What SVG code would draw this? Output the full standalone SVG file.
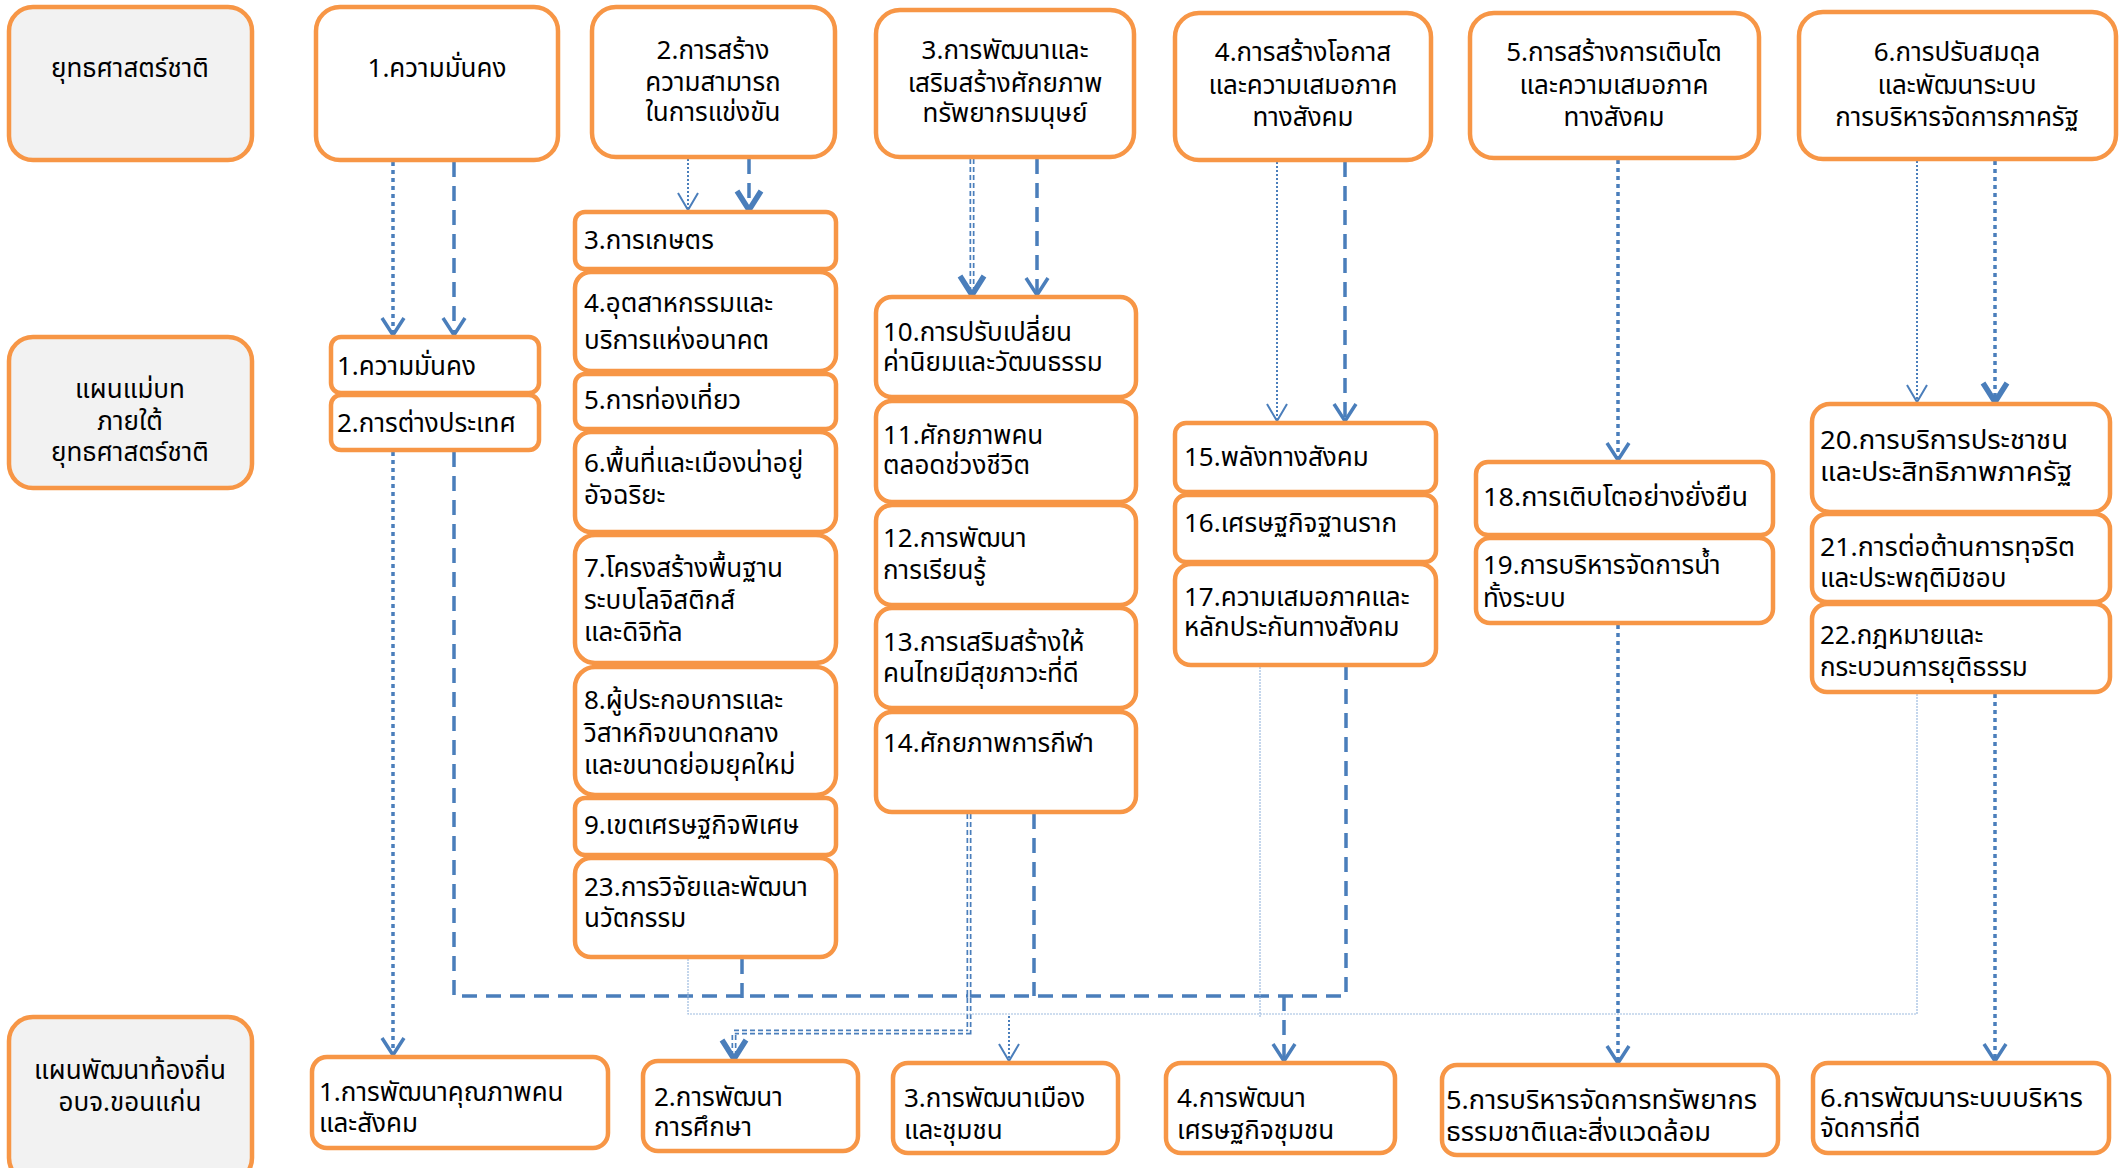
<svg xmlns="http://www.w3.org/2000/svg" width="2127" height="1168" viewBox="0 0 2127 1168">
<defs>
<style>
.box{fill:#ffffff;stroke:#f79646;stroke-width:4.5}
.hdr{fill:#f2f2f2;stroke:#f79646;stroke-width:4.5}
.t{font-family:"Noto Sans Thai","Tahoma","DejaVu Sans",sans-serif;font-size:26px;fill:#000000}
.c{text-anchor:middle}
.dash{fill:none;stroke:#4a7ebb;stroke-width:3.5;stroke-dasharray:15 9}
.dot{fill:none;stroke:#4a7ebb;stroke-width:3.5;stroke-dasharray:4 4}
.thin{fill:none;stroke:#4a7ebb;stroke-width:2;stroke-dasharray:2 2}
.faint{fill:none;stroke:#9dbbe0;stroke-width:1.2;stroke-dasharray:2 1}
.dblo{fill:none;stroke:#4a7ebb;stroke-width:5;stroke-dasharray:5 3}
.dbli{fill:none;stroke:#ffffff;stroke-width:1.6}
</style>
<marker id="aD" markerUnits="userSpaceOnUse" viewBox="0 0 24 26" markerWidth="24" markerHeight="26" refX="20" refY="13" orient="auto">
<path d="M3,2 L20,13 L3,24" fill="none" stroke="#4a7ebb" stroke-width="3.5"/>
</marker>
<marker id="aB" markerUnits="userSpaceOnUse" viewBox="0 0 26 30" markerWidth="26" markerHeight="30" refX="22" refY="15" orient="auto">
<path d="M3,3 L22,15 L3,27" fill="none" stroke="#4a7ebb" stroke-width="5.5"/>
</marker>
<marker id="aT" markerUnits="userSpaceOnUse" viewBox="0 0 22 24" markerWidth="22" markerHeight="24" refX="19" refY="12" orient="auto">
<path d="M2,2 L19,12 L2,22" fill="none" stroke="#4a7ebb" stroke-width="2"/>
</marker>
</defs>

<g id="connectors">
<path class="dot" d="M393,162 V335" marker-end="url(#aD)"/>
<path class="dash" d="M454,162 V335" marker-end="url(#aD)"/>
<path class="dot" d="M393,452 V1055" marker-end="url(#aD)"/>
<path class="dash" d="M454,452 V996 H1346 V667"/>
<path class="thin" d="M688,159 V210" marker-end="url(#aT)"/>
<path class="dash" d="M749,159 V210" marker-end="url(#aB)"/>
<path class="dash" d="M742,959 V1000"/>
<path class="dblo" d="M972,159 V295"/>
<path class="dbli" d="M972,159 V295"/>
<path class="dash" d="M972,280 V295" style="stroke:none" marker-end="url(#aB)"/>
<path class="dash" d="M1037,159 V295" marker-end="url(#aD)"/>
<path class="dash" d="M1034,814 V996"/>
<path class="dblo" d="M969,814 V1032 H734 V1059"/>
<path class="dbli" d="M969,814 V1032 H734 V1059"/>
<path class="dash" d="M734,1045 V1059" style="stroke:none" marker-end="url(#aB)"/>
<path class="dash" d="M1284,996 V1061" marker-end="url(#aD)"/>
<path class="thin" d="M1277,162 V421" marker-end="url(#aT)"/>
<path class="dash" d="M1345,162 V421" marker-end="url(#aD)"/>
<path class="faint" d="M688,959 V1014 H1917 V694"/>
<path class="faint" d="M1260,667 V1018"/>
<path class="thin" d="M1009,1016 V1061" marker-end="url(#aT)"/>
<path class="dot" d="M1618,160 V460" marker-end="url(#aD)"/>
<path class="dot" d="M1618,625 V1063" marker-end="url(#aD)"/>
<path class="thin" d="M1917,161 V402" marker-end="url(#aT)"/>
<path class="dot" d="M1995,161 V402" marker-end="url(#aB)"/>
<path class="dot" d="M1995,694 V1061" marker-end="url(#aD)"/>
</g>

<g id="hdr1"><rect class="hdr" x="9" y="7" width="243" height="153" rx="24"/><text class="t c" x="130" y="77">ยุทธศาสตร์ชาติ</text></g>
<g id="hdr2"><rect class="hdr" x="9" y="337" width="243" height="151" rx="24"/><text class="t c" x="130" y="398">แผนแม่บท</text><text class="t c" x="130" y="430">ภายใต้</text><text class="t c" x="130" y="461">ยุทธศาสตร์ชาติ</text></g>
<g id="hdr3"><rect class="hdr" x="9" y="1017" width="243" height="165" rx="24"/><text class="t c" x="130" y="1079">แผนพัฒนาท้องถิ่น</text><text class="t c" x="130" y="1111">อบจ.ขอนแก่น</text></g>

<g id="s1"><rect class="box" x="316" y="7" width="242" height="153" rx="24"/><text class="t c" x="437" y="77">1.ความมั่นคง</text></g>
<g id="s2"><rect class="box" x="592" y="7" width="243" height="150" rx="24"/><text class="t c" x="713" y="59">2.การสร้าง</text><text class="t c" x="713" y="91">ความสามารถ</text><text class="t c" x="713" y="121">ในการแข่งขัน</text></g>
<g id="s3"><rect class="box" x="876" y="10" width="258" height="147" rx="24"/><text class="t c" x="1005" y="59">3.การพัฒนาและ</text><text class="t c" x="1005" y="92">เสริมสร้างศักยภาพ</text><text class="t c" x="1005" y="122">ทรัพยากรมนุษย์</text></g>
<g id="s4"><rect class="box" x="1175" y="13" width="256" height="147" rx="24"/><text class="t c" x="1303" y="61">4.การสร้างโอกาส</text><text class="t c" x="1303" y="94">และความเสมอภาค</text><text class="t c" x="1303" y="126">ทางสังคม</text></g>
<g id="s5"><rect class="box" x="1470" y="13" width="289" height="145" rx="24"/><text class="t c" x="1614" y="61">5.การสร้างการเติบโต</text><text class="t c" x="1614" y="94">และความเสมอภาค</text><text class="t c" x="1614" y="126">ทางสังคม</text></g>
<g id="s6"><rect class="box" x="1799" y="12" width="317" height="147" rx="24"/><text class="t c" x="1957" y="61">6.การปรับสมดุล</text><text class="t c" x="1957" y="94">และพัฒนาระบบ</text><text class="t c" x="1957" y="126">การบริหารจัดการภาครัฐ</text></g>

<g id="m1"><rect class="box" x="331" y="337" width="208" height="56" rx="10"/><text class="t" x="337" y="375">1.ความมั่นคง</text></g>
<g id="m2"><rect class="box" x="331" y="395" width="208" height="55" rx="10"/><text class="t" x="337" y="432">2.การต่างประเทศ</text></g>

<g id="m3"><rect class="box" x="575" y="212" width="261" height="57" rx="10"/><text class="t" x="584" y="249">3.การเกษตร</text></g>
<g id="m4"><rect class="box" x="575" y="272" width="261" height="99" rx="16"/><text class="t" x="584" y="312">4.อุตสาหกรรมและ</text><text class="t" x="584" y="349">บริการแห่งอนาคต</text></g>
<g id="m5"><rect class="box" x="575" y="374" width="261" height="55" rx="10"/><text class="t" x="584" y="409">5.การท่องเที่ยว</text></g>
<g id="m6"><rect class="box" x="575" y="432" width="261" height="100" rx="16"/><text class="t" x="584" y="472">6.พื้นที่และเมืองน่าอยู่</text><text class="t" x="584" y="504">อัจฉริยะ</text></g>
<g id="m7"><rect class="box" x="575" y="535" width="261" height="128" rx="20"/><text class="t" x="584" y="577">7.โครงสร้างพื้นฐาน</text><text class="t" x="584" y="609">ระบบโลจิสติกส์</text><text class="t" x="584" y="641">และดิจิทัล</text></g>
<g id="m8"><rect class="box" x="575" y="667" width="261" height="128" rx="20"/><text class="t" x="584" y="709">8.ผู้ประกอบการและ</text><text class="t" x="584" y="742">วิสาหกิจขนาดกลาง</text><text class="t" x="584" y="774">และขนาดย่อมยุคใหม่</text></g>
<g id="m9"><rect class="box" x="575" y="798" width="261" height="57" rx="10"/><text class="t" x="584" y="834">9.เขตเศรษฐกิจพิเศษ</text></g>
<g id="m23"><rect class="box" x="575" y="858" width="261" height="99" rx="16"/><text class="t" x="584" y="896">23.การวิจัยและพัฒนา</text><text class="t" x="584" y="927">นวัตกรรม</text></g>

<g id="m10"><rect class="box" x="876" y="297" width="260" height="100" rx="16"/><text class="t" x="883" y="341">10.การปรับเปลี่ยน</text><text class="t" x="883" y="371">ค่านิยมและวัฒนธรรม</text></g>
<g id="m11"><rect class="box" x="876" y="401" width="260" height="101" rx="16"/><text class="t" x="883" y="444">11.ศักยภาพคน</text><text class="t" x="883" y="474">ตลอดช่วงชีวิต</text></g>
<g id="m12"><rect class="box" x="876" y="505" width="260" height="100" rx="16"/><text class="t" x="883" y="547">12.การพัฒนา</text><text class="t" x="883" y="579">การเรียนรู้</text></g>
<g id="m13"><rect class="box" x="876" y="608" width="260" height="100" rx="16"/><text class="t" x="883" y="651">13.การเสริมสร้างให้</text><text class="t" x="883" y="682">คนไทยมีสุขภาวะที่ดี</text></g>
<g id="m14"><rect class="box" x="876" y="712" width="260" height="100" rx="16"/><text class="t" x="883" y="752">14.ศักยภาพการกีฬา</text></g>

<g id="m15"><rect class="box" x="1175" y="423" width="261" height="69" rx="11"/><text class="t" x="1184" y="466">15.พลังทางสังคม</text></g>
<g id="m16"><rect class="box" x="1175" y="495" width="261" height="67" rx="11"/><text class="t" x="1184" y="532">16.เศรษฐกิจฐานราก</text></g>
<g id="m17"><rect class="box" x="1175" y="564" width="261" height="101" rx="16"/><text class="t" x="1184" y="606">17.ความเสมอภาคและ</text><text class="t" x="1184" y="636">หลักประกันทางสังคม</text></g>

<g id="m18"><rect class="box" x="1476" y="462" width="297" height="73" rx="12"/><text class="t" x="1483" y="506" textLength="265" lengthAdjust="spacingAndGlyphs">18.การเติบโตอย่างยั่งยืน</text></g>
<g id="m19"><rect class="box" x="1476" y="538" width="297" height="85" rx="14"/><text class="t" x="1483" y="574">19.การบริหารจัดการน้ำ</text><text class="t" x="1483" y="607">ทั้งระบบ</text></g>

<g id="m20"><rect class="box" x="1812" y="404" width="298" height="108" rx="18"/><text class="t" x="1820" y="449" textLength="248" lengthAdjust="spacingAndGlyphs">20.การบริการประชาชน</text><text class="t" x="1820" y="481" textLength="252" lengthAdjust="spacingAndGlyphs">และประสิทธิภาพภาครัฐ</text></g>
<g id="m21"><rect class="box" x="1812" y="514" width="298" height="88" rx="15"/><text class="t" x="1820" y="556" textLength="255" lengthAdjust="spacingAndGlyphs">21.การต่อต้านการทุจริต</text><text class="t" x="1820" y="587">และประพฤติมิชอบ</text></g>
<g id="m22"><rect class="box" x="1812" y="604" width="298" height="88" rx="15"/><text class="t" x="1820" y="644">22.กฎหมายและ</text><text class="t" x="1820" y="676">กระบวนการยุติธรรม</text></g>

<g id="p1"><rect class="box" x="312" y="1057" width="296" height="91" rx="15"/><text class="t" x="319" y="1101">1.การพัฒนาคุณภาพคน</text><text class="t" x="319" y="1132">และสังคม</text></g>
<g id="p2"><rect class="box" x="643" y="1061" width="215" height="90" rx="15"/><text class="t" x="654" y="1106">2.การพัฒนา</text><text class="t" x="654" y="1136">การศึกษา</text></g>
<g id="p3"><rect class="box" x="893" y="1063" width="225" height="90" rx="15"/><text class="t" x="904" y="1107">3.การพัฒนาเมือง</text><text class="t" x="904" y="1139">และชุมชน</text></g>
<g id="p4"><rect class="box" x="1166" y="1063" width="229" height="90" rx="15"/><text class="t" x="1177" y="1107">4.การพัฒนา</text><text class="t" x="1177" y="1139">เศรษฐกิจชุมชน</text></g>
<g id="p5"><rect class="box" x="1442" y="1065" width="336" height="90" rx="15"/><text class="t" x="1446" y="1109" textLength="311" lengthAdjust="spacingAndGlyphs">5.การบริหารจัดการทรัพยากร</text><text class="t" x="1446" y="1141" textLength="265" lengthAdjust="spacingAndGlyphs">ธรรมชาติและสิ่งแวดล้อม</text></g>
<g id="p6"><rect class="box" x="1813" y="1063" width="296" height="90" rx="15"/><text class="t" x="1820" y="1107" textLength="263" lengthAdjust="spacingAndGlyphs">6.การพัฒนาระบบบริหาร</text><text class="t" x="1820" y="1137">จัดการที่ดี</text></g>
</svg>
